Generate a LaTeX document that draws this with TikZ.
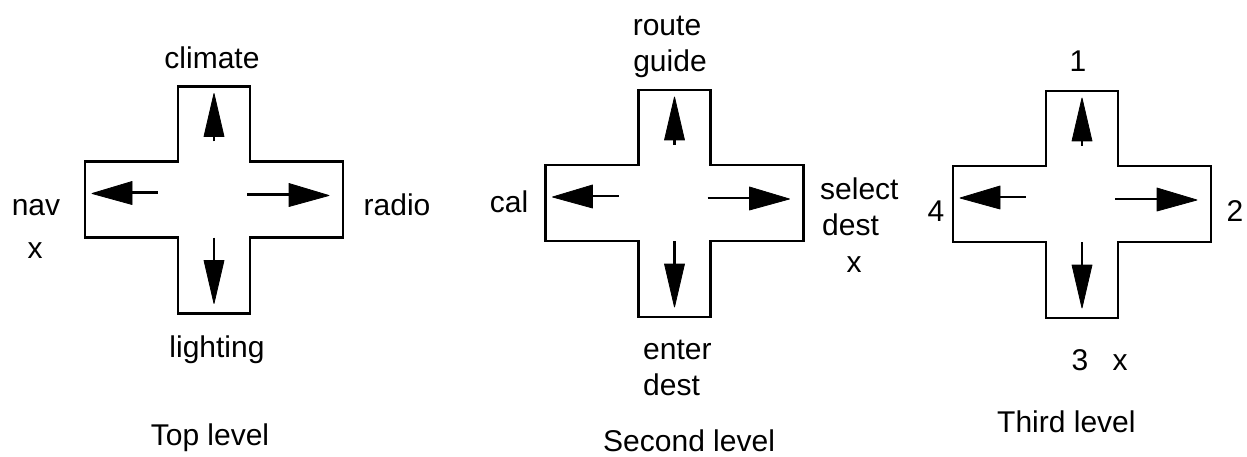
\documentclass[tikz,border=0pt]{standalone}
\usepackage{fontspec}
\setmainfont{Liberation Sans}
\tikzset{
  lbl/.style={inner sep=0pt, anchor=base, font=\fontsize{30}{36}\selectfont},
  lblw/.style={lbl, anchor=base west},
  outline/.style={line width=2.4pt, line join=miter},
  stem/.style={line width=2.2pt},
  head/.style={fill=black, draw=black, line width=0.8pt, line join=round},
  dpad/.pic={
    \draw[outline] (-36,-113) -- (36,-113) -- (36,-38) -- (129,-38) -- (129,38)
      -- (36,38) -- (36,114) -- (-36,114) -- (-36,38) -- (-129,38) -- (-129,-38)
      -- (-36,-38) -- cycle;
    % up
    \draw[stem] (0,-58) -- (0,-64);
    \filldraw[head] (-10,-63) -- (10,-63) -- (0,-106) -- cycle;
    % down
    \draw[stem] (0,38) -- (0,62);
    \filldraw[head] (-10,61) -- (10,61) -- (0,104) -- cycle;
    % left
    \draw[stem] (-83,-7) -- (-56,-7);
    \filldraw[head] (-82,-18) -- (-82,5) -- (-122,-6) -- cycle;
    % right
    \draw[stem] (33,-5) -- (76,-5);
    \filldraw[head] (75,-16) -- (75,7) -- (115,-4) -- cycle;
  }
}
\begin{document}
\begin{tikzpicture}[x=1pt,y=-1pt]
  \useasboundingbox[fill=white] (0,0) rectangle (1247,457);
  % pads
  \pic (p1) at (214,199.5) {dpad};
  \pic (p2) at (674.5,203) {dpad};
  \pic (p3) at (1082,204) {dpad};
  % top level
  \node[lbl] (climate) at (212,69) {climate};
  \node[lbl] (lighting) at (217,357) {lighting};
  \node[lbl] (nav) at (36,215) {nav};
  \node[lbl] (navx) at (35,258) {x};
  \node[lbl] (radio) at (397,215) {radio};
  \node[lbl] (toplevel) at (210,445) {Top level};
  % second level
  \node[lbl] (route) at (667,36) {route};
  \node[lbl] (guide) at (670,72) {guide};
  \node[lbl] (cal) at (509,212) {cal};
  \node[lblw] (select) at (820,200) {select};
  \node[lblw] (sdest) at (822,235) {dest};
  \node[lbl] (sdestx) at (854,272) {x};
  \node[lblw] (enter) at (643,359) {enter};
  \node[lblw] (edest) at (643,395) {dest};
  \node[lblw] (secondlevel) at (603,451) {Second level};
  % third level
  \node[lbl] (one) at (1078,72) {1};
  \node[lbl] (four) at (936,222) {4};
  \node[lbl] (two) at (1235,222) {2};
  \node[lbl] (three) at (1080,370) {3};
  \node[lbl] (threex) at (1120,370) {x};
  \node[lblw] (thirdlevel) at (997,432) {Third level};
\end{tikzpicture}
\end{document}
